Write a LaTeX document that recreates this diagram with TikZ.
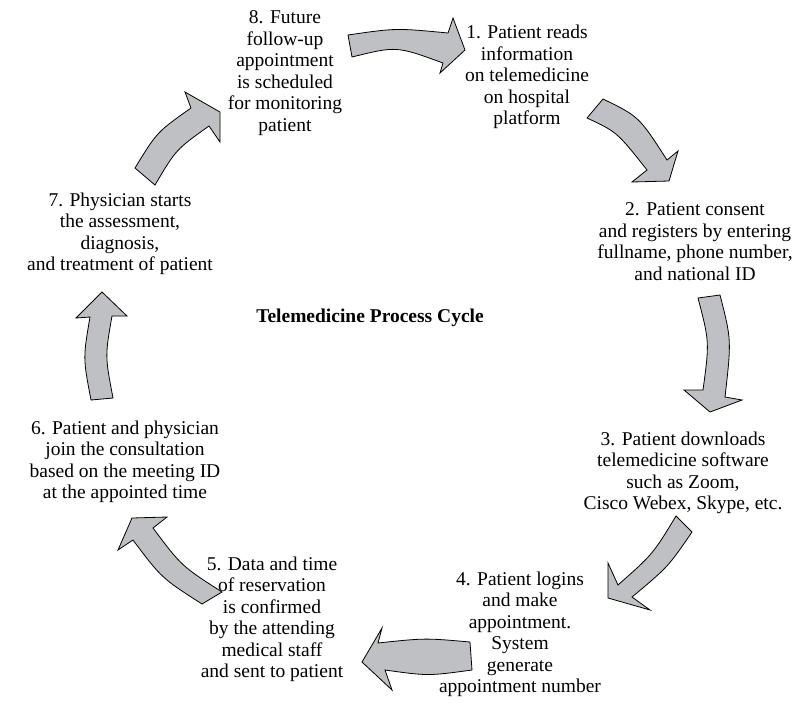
\documentclass[tikz,border=0pt]{standalone}
\usepackage{fontspec}
\setmainfont{Liberation Serif}
\definecolor{arrowgray}{RGB}{191,192,196}
\begin{document}
\begin{tikzpicture}[x=1pt,y=-1pt,
  blockarrow/.style={fill=arrowgray,draw=black,line width=0.8pt,line join=miter},
  steptext/.style={align=center,inner sep=0pt,font=\fontsize{19.5}{21.5}\selectfont},
  titletext/.style={inner sep=0pt,font=\fontsize{19.5}{21.5}\selectfont\bfseries}]
\useasboundingbox (0,0) rectangle (801,705);
% text blocks
\node[steptext] (s1) at (527,77) {1. Patient reads\\information\\on telemedicine\\on hospital\\platform};
\node[steptext] (s2) at (695,241.5) {2. Patient consent\\and registers by entering\\fullname, phone number,\\and national ID};
\node[steptext] (s3) at (683,473) {3. Patient downloads\\telemedicine software\\such as Zoom,\\Cisco Webex, Skype, etc.};
\node[steptext] (s4) at (520,634.5) {4. Patient logins\\and make\\appointment.\\System\\generate\\appointment number};
\node[steptext] (s5) at (272,619.5) {5. Data and time\\of reservation\\is confirmed\\by the attending\\medical staff\\and sent to patient};
\node[steptext] (s6) at (125,462) {6. Patient and physician\\join the consultation\\based on the meeting ID\\at the appointed time};
\node[steptext] (s7) at (120,234) {7. Physician starts\\the assessment,\\diagnosis,\\and treatment of patient};
\node[steptext] (s8) at (285,73) {8. Future\\follow-up\\appointment\\is scheduled\\for monitoring\\patient};
\node[titletext] (title) at (370,318) {Telemedicine Process Cycle};
% arrows
% 8 -> 1
\filldraw[blockarrow] (348,35) .. controls (396,28) .. (448,33) -- (453,18) -- (465,50) -- (440,73) -- (443,63) .. controls (396.5,46) .. (352,57) -- cycle;
% 1 -> 2
\filldraw[blockarrow] (603,99) .. controls (639,116.5) .. (667,160) -- (678,151) -- (669,181) -- (632,182) -- (647,170) .. controls (617,132) .. (587,118) -- cycle;
% 2 -> 3
\filldraw[blockarrow] (720,295) .. controls (731.5,340) .. (725,397) -- (742,400) -- (710,412) -- (684,390) -- (703,390) .. controls (709.5,342) .. (698,298) -- cycle;
% 3 -> 4
\filldraw[blockarrow] (692,532) .. controls (668,567) .. (632,597) -- (650,610) -- (608,598) -- (608,563) -- (618,585) .. controls (653,554) .. (676,516) -- cycle;
% 4 -> 5
\filldraw[blockarrow] (470,642) .. controls (425,638) .. (378,643) -- (382,628) -- (362,662) -- (392,690) -- (385,670) .. controls (428,676) .. (472,670) -- cycle;
% 5 -> 6
\filldraw[blockarrow] (222,592) .. controls (181.5,566) .. (153,528) -- (167,517) -- (132,518) -- (118,550) -- (133,540) .. controls (161.5,578) .. (202,604) -- cycle;
% 6 -> 7
\filldraw[blockarrow] (113,398) .. controls (105,356) .. (112,316) -- (127,316) -- (102,292) -- (76,318) -- (90,317) .. controls (83,358) .. (91,400) -- cycle;
% 7 -> 8
\filldraw[blockarrow] (135,168) .. controls (157,132) .. (191,108) -- (185,92) -- (220,112) -- (220,142) -- (209,126) .. controls (176,149.5) .. (155,185) -- cycle;
\end{tikzpicture}
\end{document}
